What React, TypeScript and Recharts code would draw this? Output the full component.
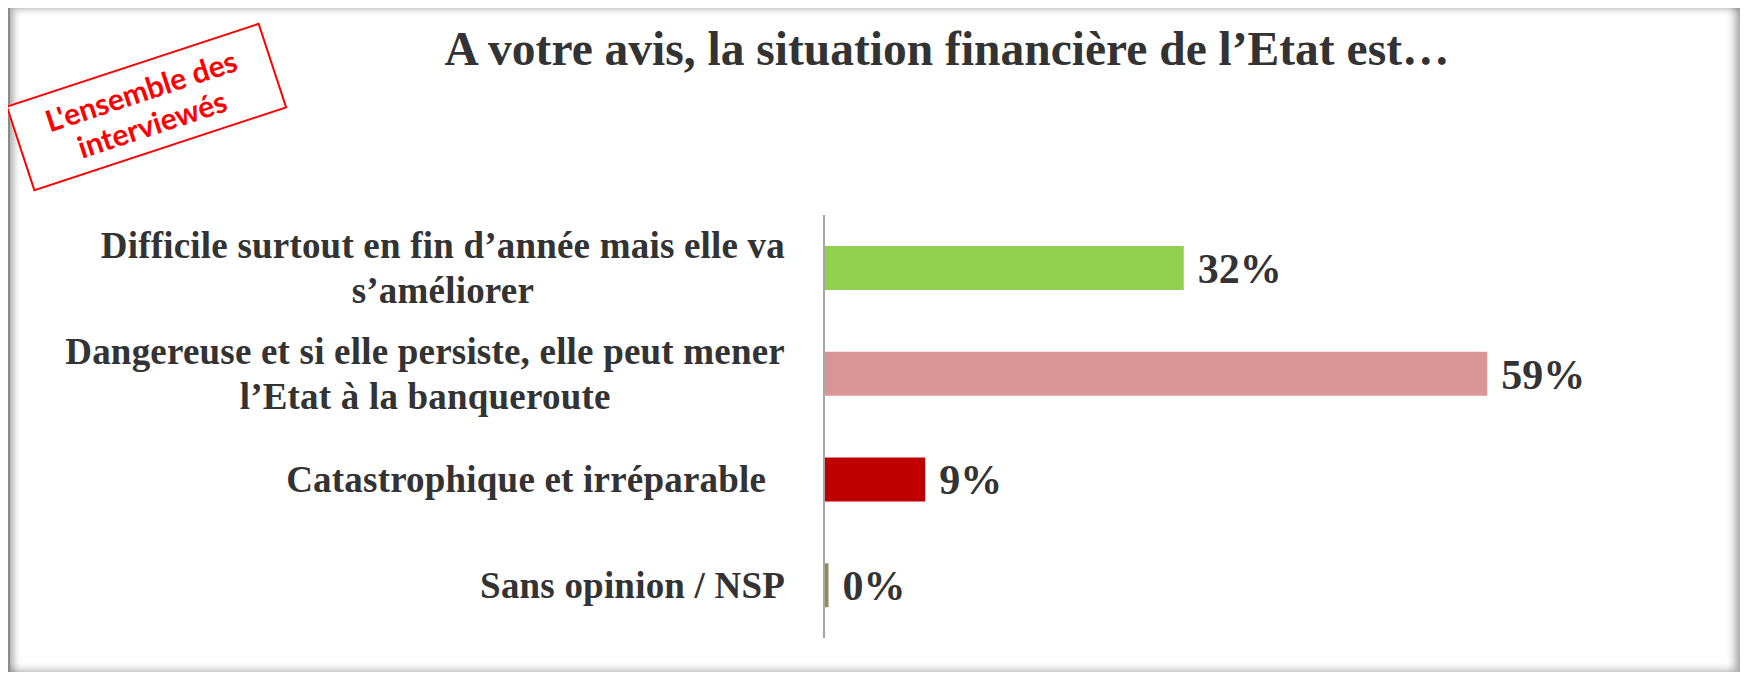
import { Bar, BarChart, Cell, LabelList, XAxis, YAxis } from "recharts"

const title = "A votre avis, la situation financière de l’Etat est…"
const stampLines = ["L'ensemble des", "interviewés"]

// one entry per bar, "\n" marks the line break of the label
const categories = [
  "Difficile surtout en fin d’année mais elle va\ns’améliorer",
  "Dangereuse et si elle persiste, elle peut mener\nl’Etat à la banqueroute",
  "Catastrophique et irréparable\u00a0\u00a0",
  "Sans opinion / NSP",
]
const values = [32, 59, 9, 0.4]
const barColors = ["#92d050", "#d99694", "#c00000", "#948a54"]

const data = categories.map((name, i) => ({ name, value: values[i] }))

const serif = '"Liberation Serif", "Times New Roman", serif'
const labelFontSize = 37
const labelLetterSpacing = 0.2

let ctx: CanvasRenderingContext2D | null = null
function measure(text: string) {
  if (!ctx) ctx = document.createElement("canvas").getContext("2d")
  if (!ctx) return text.length * labelFontSize * 0.5
  ctx.font = `bold ${labelFontSize}px "Liberation Serif"`
  return ctx.measureText(text).width + text.length * labelLetterSpacing
}

// multi-line labels: lines centred on each other, block right-aligned at the tick
function CategoryTick({ x, y, payload }: any) {
  const lines = String(payload.value).split("\n")
  const widest = Math.max(...lines.map(measure))
  const cx = x - widest / 2
  const lineHeight = 45
  const top = y - ((lines.length - 1) * lineHeight) / 2
  return (
    <g>
      {lines.map((line, i) => (
        <text
          key={i}
          x={cx}
          y={top + i * lineHeight}
          textAnchor="middle"
          dominantBaseline="central"
          fontFamily={serif}
          fontWeight="bold"
          fontSize={labelFontSize}
          letterSpacing={labelLetterSpacing}
          fill="#333333"
        >
          {line}
        </text>
      ))}
    </g>
  )
}

export default function App() {
  return (
    <div style={{ position: "relative", width: 1748, height: 680, margin: -8, background: "#fff" }}>
      <div
        style={{
          position: "absolute",
          left: 8,
          top: 3,
          width: 1735,
          height: 674,
          boxSizing: "border-box",
          border: "2px solid #8a8a8a",
          boxShadow: "inset 4px 4px 7px rgba(0,0,0,0.3), inset -6px -4px 8px rgba(0,0,0,0.35)",
        }}
      />
      <BarChart
        width={1748}
        height={680}
        data={data}
        layout="vertical"
        margin={{ top: 215, right: 137, bottom: 42, left: 0 }}
      >
        <XAxis type="number" domain={[0, 70]} hide />
        <YAxis
          type="category"
          dataKey="name"
          width={824}
          interval={0}
          tickSize={0}
          tickMargin={39}
          tickLine={false}
          axisLine={{ stroke: "#a6a6a6", strokeWidth: 2 }}
          tick={<CategoryTick />}
        />
        <Bar dataKey="value" barSize={44} isAnimationActive={false}>
          {data.map((d, i) => (
            <Cell key={d.name} fill={barColors[i]} />
          ))}
          <LabelList
            dataKey="value"
            position="right"
            offset={14}
            formatter={(v: any) => `${Math.round(Number(v))}%`}
            style={{ fontFamily: serif, fontWeight: "bold", fontSize: 42, fill: "#333333" }}
          />
        </Bar>
      </BarChart>
      <div
        style={{
          position: "absolute",
          left: 947,
          top: 25,
          transform: "translateX(-50%)",
          whiteSpace: "nowrap",
          fontFamily: serif,
          fontWeight: "bold",
          fontSize: 47.5,
          lineHeight: "48px",
          color: "#333333",
        }}
      >
        {title}
      </div>
      <div
        style={{
          position: "absolute",
          left: 146 - 133,
          top: 107 - 45,
          width: 267,
          height: 90,
          boxSizing: "border-box",
          border: "2px solid #ff0000",
          background: "#fff",
          transform: "rotate(-18.2deg)",
          display: "flex",
          flexDirection: "column",
          alignItems: "center",
          justifyContent: "center",
          fontFamily: "Lato, 'Open Sans', sans-serif",
          fontWeight: "bold",
          fontSize: 30,
          lineHeight: "35px",
          color: "#ff0000",
        }}
      >
        {stampLines.map((l) => (
          <div key={l}>{l}</div>
        ))}
      </div>
    </div>
  )
}
